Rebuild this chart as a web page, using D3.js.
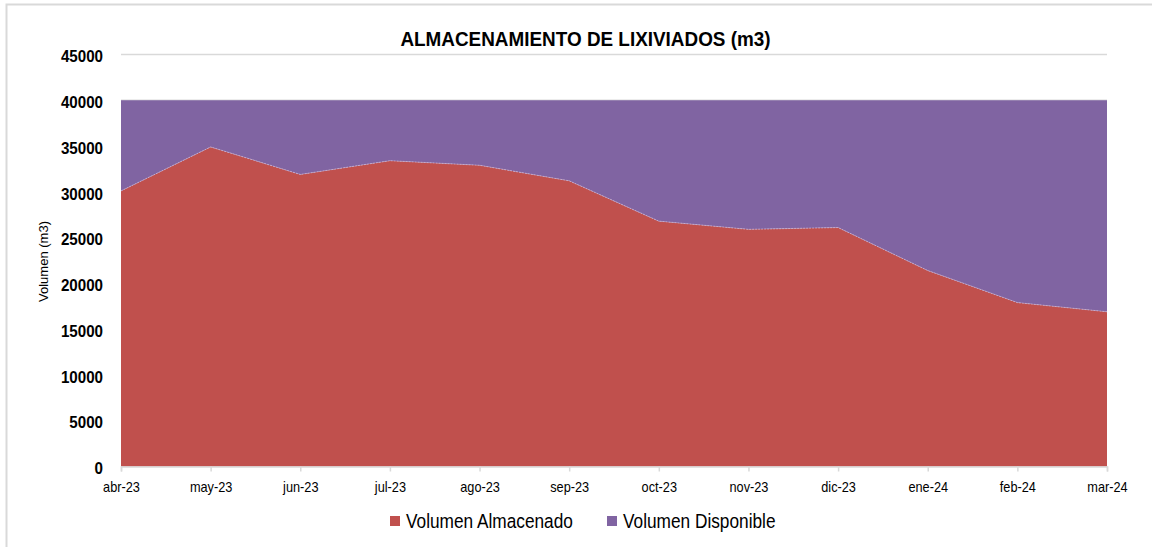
<!DOCTYPE html>
<html>
<head>
<meta charset="utf-8">
<script src="https://cdn.jsdelivr.net/npm/d3@7"></script>
<style>
  html, body { margin: 0; padding: 0; background: #fff; }
  svg { display: block; }
  text { font-family: "Liberation Sans", Arial, sans-serif; fill: #000; }
</style>
</head>
<body>
<svg id="chart" width="1152" height="547"></svg>
<script>
const categories = ["abr-23","may-23","jun-23","jul-23","ago-23","sep-23","oct-23","nov-23","dic-23","ene-24","feb-24","mar-24"];
const almacenado = [30100, 34900, 31900, 33400, 32900, 31200, 26800, 25900, 26100, 21400, 17900, 16900];
const disponible = [9900, 5100, 8100, 6600, 7100, 8800, 13200, 14100, 13900, 18600, 22100, 23100];
const yTicks = [0, 5000, 10000, 15000, 20000, 25000, 30000, 35000, 40000, 45000];
const seriesNames = ["Volumen Almacenado", "Volumen Disponible"];
const seriesColors = ["#C0504D", "#8064A2"];
const chartTitle = "ALMACENAMIENTO DE LIXIVIADOS (m3)";
const yTitle = "Volumen (m3)";

const svg = d3.select("#chart");
const pL = 121, pR = 1107, pT = 54.5, pB = 466.5;
// narrow-font emulation (horizontal condensing)
const sxTitle = 0.97, sxY = 0.93, sxX = 0.91, sxLeg = 0.885;

// outer border
svg.append("rect").attr("x", 6.5).attr("y", 4.5).attr("width", 1160).attr("height", 560)
  .attr("fill", "#fff").attr("stroke", "#d9d9d9").attr("stroke-width", 2);

const x = d3.scalePoint().domain(categories).range([pL, pR]);
const y = d3.scaleLinear().domain([0, 45000]).range([pB, pT]);

// gridlines
svg.append("g").selectAll("line").data(yTicks.filter(d => d > 0)).join("line")
  .attr("x1", pL).attr("x2", pR)
  .attr("y1", d => y(d)).attr("y2", d => y(d))
  .attr("stroke", "#d9d9d9").attr("stroke-width", 1.5);

// stacked data
const table = categories.map((c, i) => ({ cat: c, a: almacenado[i], d: disponible[i] }));
const layers = d3.stack().keys(["a", "d"])(table);

const area = d3.area()
  .x(d => x(d.data.cat))
  .y0(d => y(d[0]))
  .y1(d => y(d[1]));

svg.append("g").selectAll("path").data(layers).join("path")
  .attr("d", area)
  .attr("fill", (d, i) => seriesColors[i]);

// thin light edge between series
const edge = d3.line().x(d => x(d.data.cat)).y(d => y(d[1]));
svg.append("path").datum(layers[0]).attr("d", edge)
  .attr("fill", "none").attr("stroke", "#c9b3d6").attr("stroke-width", 0.8).attr("stroke-dasharray", "2,1");

// x axis
const xAxis = d3.axisBottom(x).tickSize(5).tickPadding(10.5);
const gx = svg.append("g").attr("transform", `translate(0,${pB})`).call(xAxis);
gx.attr("font-family", null).attr("font-size", null);
gx.select(".domain").attr("stroke", "#d9d9d9").attr("stroke-width", 1.5);
gx.selectAll(".tick line").attr("stroke", "#d9d9d9").attr("stroke-width", 1.5);
gx.selectAll(".tick text").attr("font-size", 14).attr("fill", "#000")
  .attr("transform", `scale(${sxX},1)`);

// y axis
const yPad = 18;
const yAxis = d3.axisLeft(y).tickValues(yTicks).tickSize(0).tickPadding(yPad).tickFormat(d3.format("d"));
const gy = svg.append("g").attr("transform", `translate(${pL},0)`).call(yAxis);
gy.attr("font-family", null).attr("font-size", null);
gy.select(".domain").remove();
gy.selectAll(".tick text").attr("font-size", 16.3).attr("font-weight", "bold").attr("fill", "#000")
  .attr("x", -yPad / sxY).attr("dy", "0.44em")
  .attr("transform", `scale(${sxY},1)`);

// y title
svg.append("text")
  .attr("transform", `translate(48,${(pT + pB) / 2 + 1}) rotate(-90)`)
  .attr("text-anchor", "middle")
  .attr("font-size", 13)
  .text(yTitle);

// title
svg.append("text")
  .attr("transform", `translate(585.5,46) scale(${sxTitle},1)`)
  .attr("text-anchor", "middle")
  .attr("font-size", 19.5).attr("font-weight", "bold")
  .text(chartTitle);

// legend
const legendX = [390, 607];
const lg = svg.append("g");
seriesNames.forEach((n, i) => {
  lg.append("rect").attr("x", legendX[i]).attr("y", 516).attr("width", 10).attr("height", 10).attr("fill", seriesColors[i]);
  lg.append("text").attr("transform", `translate(${legendX[i] + 16},528.3) scale(${sxLeg},1)`)
    .attr("font-size", 19.5).text(n);
});
</script>
</body>
</html>
